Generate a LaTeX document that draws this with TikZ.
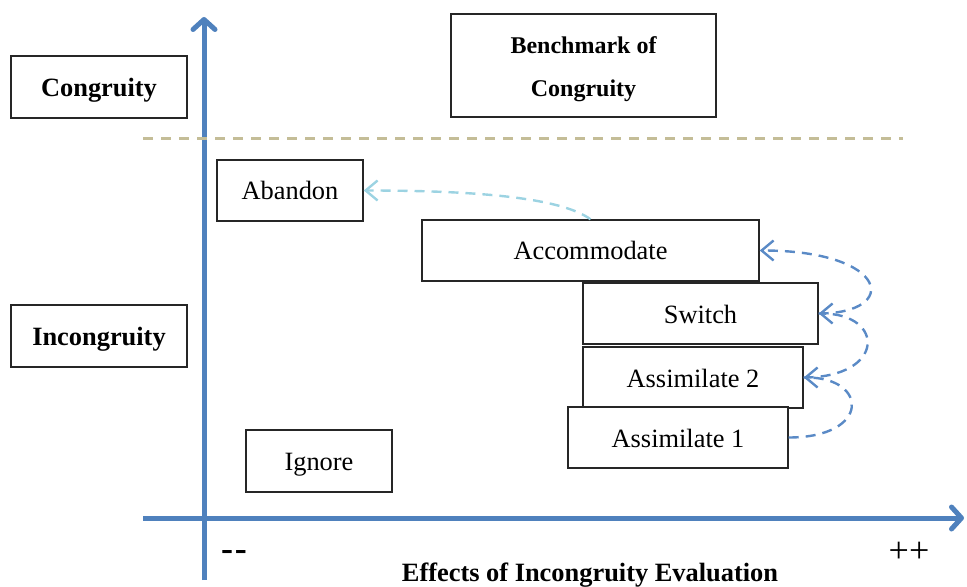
\documentclass[tikz,border=0pt]{standalone}
\usepackage{fontspec}
\setmainfont{Liberation Serif}
\usetikzlibrary{positioning, arrows.meta}
\definecolor{AxisBlue}{HTML}{4F81BD}
\definecolor{LinkBlue}{HTML}{5A8AC6}
\definecolor{PaleBlue}{HTML}{9CD3E2}
\definecolor{BorderTan}{HTML}{C4BD97}

\begin{document}
\begin{tikzpicture}[
    x=0.5pt, y=-0.5pt,
    font=\fontsize{13.2}{16}\selectfont,
    stage/.style={rectangle, draw=black!85, fill=white, line width=0.7pt, inner sep=0pt, align=center, minimum height=30.5pt, text height=10.5pt, text depth=1pt},
    level/.style={stage, font=\fontsize{13.2}{16}\selectfont\bfseries, minimum width=88pt, minimum height=31pt},
    axis/.style={AxisBlue, line width=2.5pt, -{Straight Barb[length=5pt, width=11pt, round]}},
    link/.style={LinkBlue, line width=1.2pt, dash pattern=on 5pt off 3.5pt, -{Straight Barb[length=6pt, width=10pt]}},
    fade/.style={link, PaleBlue},
    mark label/.style={font=\fontsize{18}{20}\selectfont}
  ]
    \useasboundingbox (0,0) rectangle (967,587);

    % Axes
    \coordinate (yfoot) at (204,580);
    \coordinate (ytip) at (204,17);
    \coordinate (xfoot) at (143,518);
    \coordinate (xtip) at (964,518);
    \draw [axis] (yfoot) -- (ytip);
    \draw [axis] (xfoot) -- (xtip);

    % Border between congruity and incongruity
    \coordinate (sepl) at (143,139);
    \coordinate (sepr) at (903,139);
    \draw [BorderTan, line width=1.5pt, dash pattern=on 5pt off 4pt] (sepl) -- (sepr);

    % Nodes
    \node (cong) [level] at (99,87) {Congruity};
    \node (incong) [level] at (99,336) {Incongruity};
    \node (bench) [stage, minimum width=132.5pt, minimum height=51.5pt, text height=, text depth=, font=\fontsize{12}{21.5}\selectfont\bfseries] at (583.5,65.5) {\rule{0pt}{12.5pt}Benchmark of\\Congruity};
    \node (aband) [stage, minimum width=73pt] at (290,190.5) {Abandon};
    \node (accom) [stage, minimum width=168.5pt] at (590.5,250.5) {Accommodate};
    \node (switch) [stage, minimum width=117.5pt] at (700.5,313.5) {Switch};
    \node (asim2) [stage, minimum width=110pt] at (693,377.5) {Assimilate 2};
    \node (asim1) [stage, minimum width=110pt] at (678,437.5) {Assimilate 1};
    \node (ignore) [stage, minimum width=73pt, minimum height=31pt] at (319,461) {Ignore};

    % Axis labels
    \node (low) [mark label] at (234,555) {\textbf{-\kern0.8pt-}};
    \node (high) [mark label] at (909,552) {++};
    \node (xlabel) at (590,575) {\textbf{Effects of Incongruity Evaluation}};

    % Arrows
    \draw [link] (asim1.east) .. controls +(82,0) and +(65,0) .. (asim2.east);
    \draw [link] (asim2.east) .. controls +(82,0) and +(67,0) .. (switch.east);
    \draw [link] (switch.east) .. controls +(82,0) and +(130,0) .. (accom.east);
    \draw [fade] (accom.north) .. controls +(-30,-22) and +(110,0) .. (aband.east);
  \end{tikzpicture}
\end{document}
